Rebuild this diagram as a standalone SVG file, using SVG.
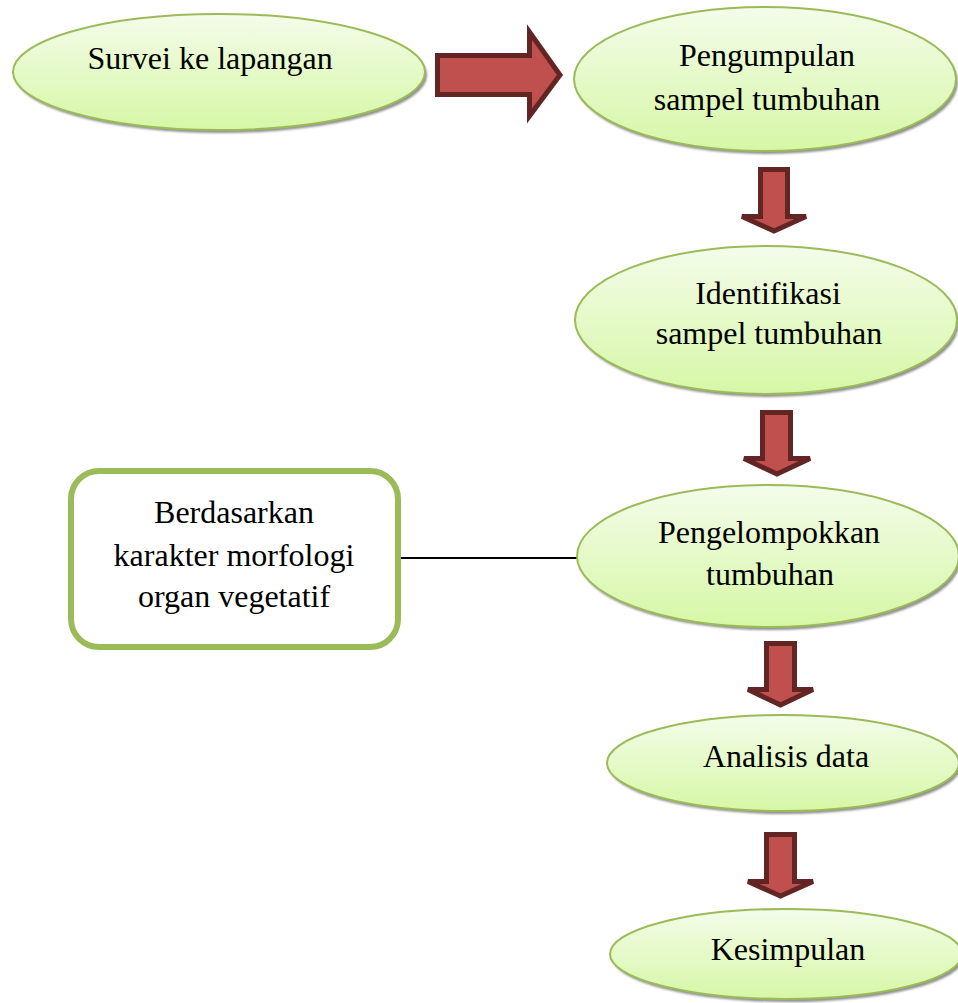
<svg xmlns="http://www.w3.org/2000/svg" width="958" height="1003" viewBox="0 0 958 1003">
<defs>
<linearGradient id="gf" x1="0" y1="0" x2="0" y2="1">
<stop offset="0" stop-color="#F4FCEA"/>
<stop offset="1" stop-color="#D6F7A6"/>
</linearGradient>
<filter id="blur" x="-10%" y="-10%" width="120%" height="130%">
<feGaussianBlur stdDeviation="1.2"/>
</filter>
<style>
.el{fill:url(#gf);stroke:#9BBB59;stroke-width:2}
.sh{fill:#8f8f8f;filter:url(#blur)}
.ar{fill:#C0504D;stroke:#632523;stroke-width:5;stroke-linejoin:miter}
.box{fill:#fff;stroke:#9BBB59;stroke-width:6}
.ln{stroke:#000;stroke-width:2;fill:none}
</style>
</defs>
<rect width="958" height="1003" fill="#fff"/>

<g id="connectors">
<path class="ar" d="M437.5,55.5 H529.5 V32 L560,75 L529.5,116 V94.5 H437.5 Z"/>
<path class="ar" d="M760.5,169.5 H787.5 V216.5 H806 L774,231 L742,216.5 H760.5 Z"/>
<path class="ar" d="M762.5,412.5 H790.5 V458.5 H810 L777,474 L744,458.5 H762.5 Z"/>
<path class="ar" d="M766.5,643.5 H794.5 V689.5 H813 L780.5,705 L748,689.5 H766.5 Z"/>
<path class="ar" d="M766.5,834.5 H794.5 V881.5 H813 L780.5,896 L748,881.5 H766.5 Z"/>
<line class="ln" x1="401" y1="558" x2="579" y2="558"/>
</g>

<g font-family="'Liberation Serif', Tinos, 'Times New Roman', 'DejaVu Serif', serif" font-size="32" fill="#000" text-anchor="middle">
<g id="n1">
<ellipse class="sh" cx="221" cy="75" rx="206" ry="58"/>
<ellipse class="el" cx="219" cy="72" rx="206" ry="58"/>
<text x="210" y="69">Survei ke lapangan</text>
</g>

<g id="n2">
<ellipse class="sh" cx="767" cy="82" rx="191" ry="72"/>
<ellipse class="el" cx="765" cy="79" rx="191" ry="72"/>
<text x="767" y="66">Pengumpulan</text>
<text x="767" y="110">sampel tumbuhan</text>
</g>

<g id="n3">
<ellipse class="sh" cx="768" cy="323" rx="191" ry="74"/>
<ellipse class="el" cx="766" cy="320" rx="191" ry="74"/>
<text x="768" y="304">Identifikasi</text>
<text x="769" y="344">sampel tumbuhan</text>
</g>

<g id="n4">
<ellipse class="sh" cx="770" cy="559" rx="191" ry="71"/>
<ellipse class="el" cx="768" cy="556" rx="191" ry="71"/>
<text x="769" y="543">Pengelompokkan</text>
<text x="770" y="585">tumbuhan</text>
</g>

<g id="n5">
<ellipse class="sh" cx="785" cy="766" rx="176" ry="48"/>
<ellipse class="el" cx="783" cy="763" rx="176" ry="48"/>
<text x="786" y="767">Analisis data</text>
</g>

<g id="n6">
<ellipse class="sh" cx="788" cy="957" rx="176" ry="45"/>
<ellipse class="el" cx="786" cy="954" rx="176" ry="45"/>
<text x="788" y="960">Kesimpulan</text>
</g>

<g id="n7">
<rect class="box" x="71" y="471" width="327" height="176" rx="28" ry="28"/>
<text x="234" y="523">Berdasarkan</text>
<text x="234" y="566">karakter morfologi</text>
<text x="234" y="607">organ vegetatif</text>
</g>
</g>
</svg>
